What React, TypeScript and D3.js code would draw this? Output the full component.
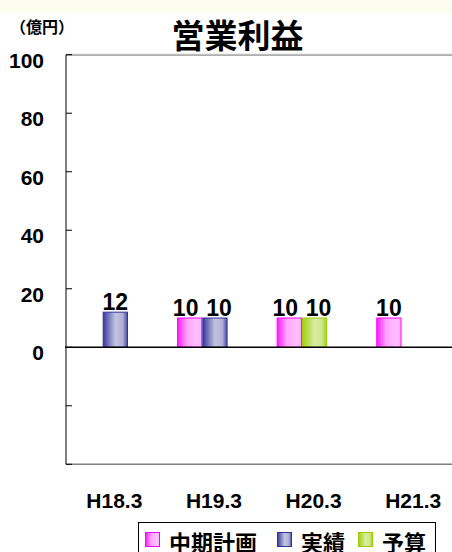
import * as React from "react";
import * as d3 from "d3";

// 営業利益（億円）
const categories = ["H18.3", "H19.3", "H20.3", "H21.3"];
const planValues: (number | null)[] = [null, 10, 10, 10]; // 中期計画
const resultValues: (number | null)[] = [12, 10, 10, null]; // 実績 / 予算
const resultKinds: (string | null)[] = ["実績", "実績", "予算", null];
const slots = ["plan", "result", "spare"];
const yTicks = [-40, -20, 0, 20, 40, 60, 80, 100];
const legendItems = ["中期計画", "実績", "予算"];

const W = 452;
const H = 552;
const JP = "'Noto Sans CJK JP', sans-serif";
const NUM = "'Liberation Sans', Arial, sans-serif";

const colors: Record<string, { stroke: string; stops: [number, string][] }> = {
  中期計画: {
    stroke: "#ff00ff",
    stops: [[0, "#ff1aff"], [0.4, "#ffa6ff"], [0.8, "#ffbfff"], [1, "#ffb0ff"]],
  },
  実績: {
    stroke: "#333399",
    stops: [[0, "#3a3a9c"], [0.5, "#c2c2e0"], [0.8, "#b2b2d8"], [1, "#4a4aa2"]],
  },
  予算: {
    stroke: "#99cc00",
    stops: [[0, "#a0d010"], [0.5, "#d8eca2"], [0.8, "#cfe78e"], [1, "#9fcf18"]],
  },
};

const gradId = (k: string) => "g-" + legendItems.indexOf(k);

const App: React.FunctionComponent = () => {
  const x = d3.scaleBand<string>().domain(categories).range([65.5, 464]);
  const inner = d3
    .scaleBand<string>()
    .domain(slots)
    .range([0, x.bandwidth()])
    .paddingInner(0)
    .paddingOuter(0.47);
  const y = d3.scaleLinear().domain([-40, 100]).range([464.3, 54.7]);
  const axisX = 66;

  const bars: { cat: string; slot: string; kind: string; value: number; pair: boolean }[] = [];
  categories.forEach((c, i) => {
    const pair = planValues[i] != null && resultValues[i] != null;
    if (planValues[i] != null)
      bars.push({ cat: c, slot: "plan", kind: "中期計画", value: planValues[i] as number, pair });
    if (resultValues[i] != null)
      bars.push({ cat: c, slot: "result", kind: resultKinds[i] as string, value: resultValues[i] as number, pair });
  });

  return (
    <svg
      width={W}
      height={H}
      style={{ position: "absolute", left: 0, top: 0, display: "block" }}
    >
      <defs>
        {legendItems.map(k => (
          <linearGradient key={k} id={gradId(k)} x1="0" x2="1" y1="0" y2="0">
            {colors[k].stops.map(([o, c]) => (
              <stop key={o} offset={o} stopColor={c} />
            ))}
          </linearGradient>
        ))}
      </defs>
      <rect x={0} y={0} width={W} height={H} fill="#ffffff" />
      <rect x={0} y={0} width={W} height={13} fill="#fdfdef" />

      {/* title + unit */}
      <text x={237.5} y={48} textAnchor="middle" fontFamily={JP} fontWeight="bold" fontSize={33} fill="#000">
        営業利益
      </text>
      <text x={10} y={33} fontFamily={JP} fontWeight="bold" fontSize={16} fill="#000">
        （億円）
      </text>

      {/* frame */}
      <line x1={axisX} x2={W} y1={y(100) - 0.5} y2={y(100) - 0.5} stroke="#c8c8c8" strokeWidth={1} />
      <line x1={axisX} x2={W} y1={y(100) + 0.5} y2={y(100) + 0.5} stroke="#888" strokeWidth={1} />
      <line x1={axisX} x2={W} y1={y(-40)} y2={y(-40)} stroke="#808080" strokeWidth={1.5} />

      {/* y axis */}
      <line x1={axisX} x2={axisX} y1={y(100)} y2={y(-40)} stroke="#000" strokeWidth={1} />
      {yTicks.map(t => (
        <g key={t}>
          <line x1={axisX} x2={axisX + 6} y1={y(t)} y2={y(t)} stroke="#000" strokeWidth={1} />
          {t >= 0 && (
            <text
              x={44}
              y={y(t) + 13}
              textAnchor="end"
              fontFamily={NUM}
              fontWeight="bold"
              fontSize={21}
              fill="#000"
            >
              {t}
            </text>
          )}
        </g>
      ))}

      {/* bars */}
      {bars.map((b, i) => {
        const bx = (x(b.cat) as number) + (inner(b.slot) as number);
        const bw = inner.bandwidth();
        const top = y(b.value);
        const nudge = b.pair ? (b.slot === "plan" ? -4 : 4) : 0;
        return (
          <g key={i}>
            <rect
              x={bx + 0.5}
              y={top}
              width={bw - 1}
              height={y(0) - top}
              fill={`url(#${gradId(b.kind)})`}
              stroke={colors[b.kind].stroke}
              strokeWidth={1}
            />
            <text
              x={bx + bw / 2 + nudge}
              y={top - 2}
              textAnchor="middle"
              fontFamily={NUM}
              fontWeight="bold"
              fontSize={23}
              fill="#000"
            >
              {b.value}
            </text>
          </g>
        );
      })}

      {/* zero line */}
      <line x1={axisX - 1} x2={W} y1={y(0)} y2={y(0)} stroke="#000" strokeWidth={1.5} />

      {/* x labels */}
      {categories.map(c => (
        <text
          key={c}
          x={(x(c) as number) + x.bandwidth() / 2 - 1}
          y={508}
          textAnchor="middle"
          fontFamily={NUM}
          fontWeight="bold"
          fontSize={21}
          fill="#000"
        >
          {c}
        </text>
      ))}

      {/* legend */}
      <rect x={138.5} y={522.5} width={297} height={40} fill="#fff" stroke="#000" strokeWidth={1} />
      {legendItems.map((k, i) => {
        const lx = [145, 277, 358][i];
        return (
          <g key={k}>
            <rect x={lx + 0.5} y={532.5} width={14} height={14} fill={`url(#${gradId(k)})`} stroke={colors[k].stroke} strokeWidth={1} />
            <text x={lx + 24} y={551} fontFamily={JP} fontWeight="bold" fontSize={22} fill="#000">
              {k}
            </text>
          </g>
        );
      })}
    </svg>
  );
};

export default App;
